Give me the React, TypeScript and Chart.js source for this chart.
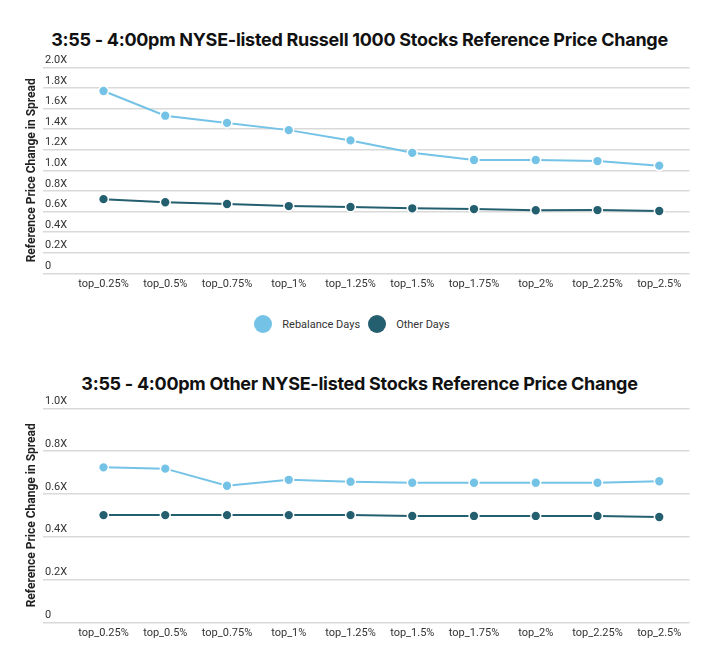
import React, { useEffect, useRef } from "react";
import { Chart, registerables } from "chart.js";

Chart.register(...registerables);

const categories = [
  "top_0.25%", "top_0.5%", "top_0.75%", "top_1%", "top_1.25%",
  "top_1.5%", "top_1.75%", "top_2%", "top_2.25%", "top_2.5%",
];

const russellRebalance = [1.77, 1.53, 1.46, 1.39, 1.29, 1.17, 1.10, 1.10, 1.09, 1.045];
const russellOther = [0.72, 0.69, 0.673, 0.653, 0.644, 0.631, 0.624, 0.612, 0.614, 0.605];

const otherRebalance = [0.724, 0.718, 0.638, 0.666, 0.657, 0.652, 0.652, 0.652, 0.652, 0.659];
const otherOther = [0.501, 0.501, 0.501, 0.501, 0.501, 0.497, 0.497, 0.497, 0.497, 0.492];

const seriesNames = ["Rebalance Days", "Other Days"];
const seriesColors = ["#74c3e7", "#245f70"];

const title1 = "3:55 - 4:00pm NYSE-listed Russell 1000 Stocks Reference Price Change";
const title2 = "3:55 - 4:00pm Other NYSE-listed Stocks Reference Price Change";
const yTitle = "Reference Price Change in Spread";

const FONT = "Roboto, 'Noto Sans', sans-serif";

function makeConfig(
  a: number[],
  b: number[],
  yMax: number,
  pad: { top: number; bottom: number }
): any {
  const mk = (vals: number[], i: number) => ({
    label: seriesNames[i],
    data: vals.map((v, k) => ({ x: k, y: v })),
    borderColor: seriesColors[i],
    backgroundColor: seriesColors[i],
    pointBackgroundColor: seriesColors[i],
    pointBorderColor: "#ffffff",
    pointBorderWidth: 1.5,
    pointRadius: 4.9,
    borderWidth: 2,
    tension: 0,
  });
  return {
    type: "line",
    data: { datasets: [mk(a, 0), mk(b, 1)] },
    options: {
      animation: false,
      responsive: true,
      maintainAspectRatio: false,
      layout: { padding: { left: 24.6, right: 29.5, top: pad.top, bottom: pad.bottom } },
      plugins: { legend: { display: false }, tooltip: { enabled: false } },
      scales: {
        x: {
          type: "linear",
          min: -0.98,
          max: 9.49,
          grid: { display: false, drawTicks: false },
          border: { display: false },
          ticks: {
            stepSize: 1,
            includeBounds: false,
            autoSkip: false,
            maxRotation: 0,
            padding: 4,
            color: "#333333",
            font: { family: FONT, size: 11 },
            callback: (v: number) => {
              const i = Math.round(v);
              return Math.abs(v - i) < 1e-6 && categories[i] ? categories[i] : "";
            },
          },
        },
        y: {
          min: 0,
          max: yMax,
          grid: { color: "#d9d9d9", lineWidth: 1.5, drawTicks: false },
          border: { display: false },
          title: {
            display: true,
            text: yTitle,
            color: "#222222",
            font: { family: FONT, size: 12, weight: "bold" },
            padding: { top: 0, bottom: 0 },
          },
          ticks: {
            stepSize: 0.2,
            mirror: true,
            padding: 2,
            labelOffset: -7,
            color: "#333333",
            font: { family: FONT, size: 11 },
            callback: (v: number) => (Math.abs(v) < 1e-9 ? "0" : v.toFixed(1) + "X"),
          },
        },
      },
    },
  };
}

function LineChart({ a, b, yMax, pad }: { a: number[]; b: number[]; yMax: number; pad: { top: number; bottom: number } }) {
  const ref = useRef<HTMLCanvasElement | null>(null);
  useEffect(() => {
    if (!ref.current) return;
    const chart = new Chart(ref.current, makeConfig(a, b, yMax, pad));
    return () => chart.destroy();
  }, []);
  return <canvas ref={ref} />;
}

const titleStyle: React.CSSProperties = {
  position: "absolute",
  left: 0,
  width: 719,
  textAlign: "center",
  fontFamily: "Inter, sans-serif",
  fontWeight: 700,
  fontSize: 18,
  lineHeight: "20px",
  letterSpacing: "-0.28px",
  color: "#111111",
  whiteSpace: "nowrap",
};

export default function App() {
  return (
    <div style={{ position: "absolute", left: 0, top: 0, width: 719, height: 663, background: "#ffffff", overflow: "hidden" }}>
      <div style={{ ...titleStyle, top: 29.5 }}>{title1}</div>
      <div style={{ position: "absolute", left: 0, top: 45, width: 719, height: 255 }}>
        <LineChart a={russellRebalance} b={russellOther} yMax={2.0} pad={{ top: 22.3, bottom: 5.5 }} />
      </div>
      <div
        style={{
          position: "absolute",
          left: 254.3,
          top: 315,
          height: 18,
          display: "flex",
          alignItems: "center",
          fontFamily: FONT,
          fontSize: 11,
          color: "#333333",
          whiteSpace: "nowrap",
        }}
      >
        {seriesNames.map((n, i) => (
          <div key={n} style={{ display: "flex", alignItems: "center", marginRight: 8 }}>
            <span
              style={{
                display: "inline-block",
                width: 18,
                height: 18,
                borderRadius: 9,
                background: seriesColors[i],
                marginRight: 10,
              }}
            />
            <span>{n}</span>
          </div>
        ))}
      </div>
      <div style={{ ...titleStyle, top: 373.5 }}>{title2}</div>
      <div style={{ position: "absolute", left: 0, top: 395, width: 719, height: 263 }}>
        <LineChart a={otherRebalance} b={otherOther} yMax={1.0} pad={{ top: 13.3, bottom: 14.5 }} />
      </div>
    </div>
  );
}
